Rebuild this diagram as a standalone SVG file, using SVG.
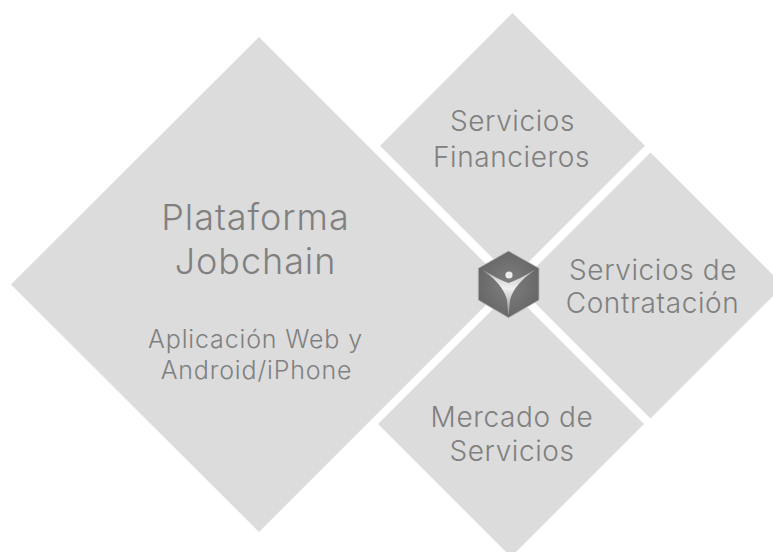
<svg xmlns="http://www.w3.org/2000/svg" width="773" height="552" viewBox="0 0 773 552">
<style>
.d{fill:#dcdcdc}
text{font-family:"Inter","Liberation Sans",sans-serif;fill:#808080;text-anchor:middle;font-weight:340}
.m{font-size:28px;letter-spacing:.6px}.b{font-size:36px;letter-spacing:.95px}.s{font-size:25px;letter-spacing:.85px}
</style>
<defs>
<radialGradient id="hex"><stop offset="0" stop-color="#7f7f7f"/><stop offset="1" stop-color="#686868"/></radialGradient>
<linearGradient id="fig" x1="0" y1="0" x2="0" y2="1"><stop offset="0" stop-color="#bdbdbd"/><stop offset=".4" stop-color="#f0f0f0"/><stop offset="1" stop-color="#8a8a8a"/></linearGradient>
</defs>
<rect width="773" height="552" fill="#fff"/>
<g id="plataforma"><polygon class="d" points="259,37 506.5,284.5 259,532 11,284.5"/><text class="b" x="255.5" y="230">Plataforma</text><text class="b" x="255.5" y="274">Jobchain</text><text class="s" x="255.5" y="348">Aplicación Web y</text><text class="s" x="256.5" y="379">Android/iPhone</text></g>
<g id="financieros"><polygon class="d" points="512.5,13 645,145.7 512.5,278 380,145.7"/><text class="m" x="512.5" y="131">Servicios</text><text class="m" x="511.5" y="167">Financieros</text></g>
<g id="contratacion"><polygon class="d" points="650.5,152.5 783.5,285.5 650.5,418.5 517.5,285.5"/><text class="m" x="653" y="280">Servicios de</text><text class="m" x="652.5" y="313">Contratación</text></g>
<g id="mercado"><polygon class="d" points="511,291 644,424 511,557 378,424"/><text class="m" x="512" y="427">Mercado de</text><text class="m" x="512" y="461">Servicios</text></g>
<g id="logo"><polygon fill="url(#hex)" stroke="#b5b5b5" stroke-width=".8" points="508.5,251 539,268.3 539,300 508.5,317.7 478.3,300 478.3,268.3"/><path fill="url(#fig)" d="M481.7,269.3 Q497,279 508.5,283 Q520,279 536,269.3 Q514,284 510,300 L508.5,317 L507,300 Q503,284 481.7,269.3Z"/><circle cx="509" cy="275" r="3.6" fill="#ececec"/></g>
</svg>
